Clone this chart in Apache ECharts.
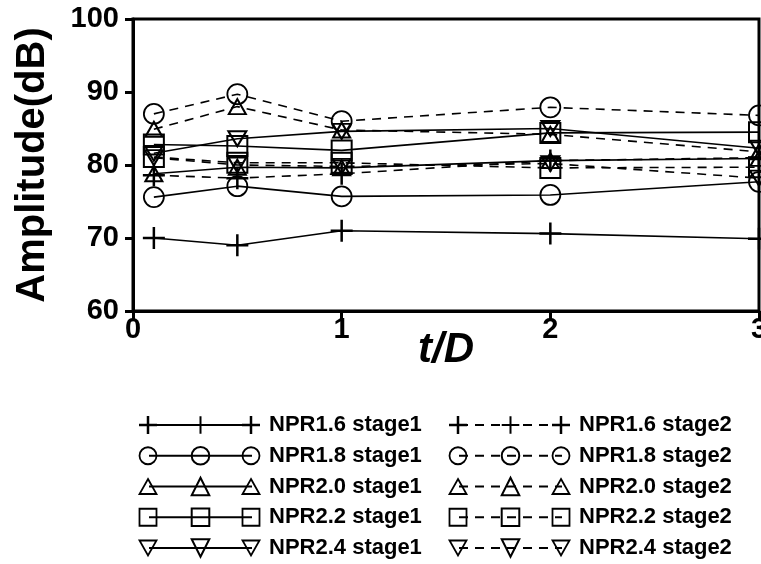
<!DOCTYPE html>
<html>
<head>
<meta charset="utf-8">
<script src="https://cdn.jsdelivr.net/npm/echarts@6/dist/echarts.min.js"></script>
<style>
  html, body { margin: 0; padding: 0; background: #fff; }
  #chart { width: 761px; height: 564px; }
</style>
</head>
<body>
<div id="chart"></div>
<script>
// ---- data ----
const xValues = [0.1, 0.5, 1, 2, 3];
const xTicks = [0, 1, 2, 3];
const yTicks = [60, 70, 80, 90, 100];

const npr16Stage1 = [70.0, 69.0, 71.0, 70.6, 69.9];
const npr16Stage2 = [78.6, 78.2, 78.8, 80.6, 81.0];
const npr18Stage1 = [75.6, 77.1, 75.7, 75.9, 77.7];
const npr18Stage2 = [87.0, 89.7, 86.0, 87.9, 86.8];
const npr20Stage1 = [78.8, 79.7, 79.6, 80.6, 80.9];
const npr20Stage2 = [84.9, 88.0, 84.8, 84.2, 81.8];
const npr22Stage1 = [82.8, 82.6, 82.0, 84.4, 84.5];
const npr22Stage2 = [81.1, 80.3, 80.3, 79.6, 79.7];
const npr24Stage1 = [81.6, 83.6, 84.6, 85.0, 82.3];
const npr24Stage2 = [81.0, 80.0, 79.8, 80.2, 78.2];

const seriesNames = [
  'NPR1.6 stage1', 'NPR1.6 stage2',
  'NPR1.8 stage1', 'NPR1.8 stage2',
  'NPR2.0 stage1', 'NPR2.0 stage2',
  'NPR2.2 stage1', 'NPR2.2 stage2',
  'NPR2.4 stage1', 'NPR2.4 stage2'
];
const seriesValues = [
  npr16Stage1, npr16Stage2,
  npr18Stage1, npr18Stage2,
  npr20Stage1, npr20Stage2,
  npr22Stage1, npr22Stage2,
  npr24Stage1, npr24Stage2
];

// ---- styling ----
const FONT = 'Arial, "Liberation Sans", Helvetica, sans-serif';
const plusPath = 'path://M10,0L10,20M0,10L20,10';
const downTri = 'path://M0,0L20,0L10,17Z';
const markers = [
  { symbol: plusPath, size: 22, bw: 2.5, legendSize: [18, 18] },
  { symbol: 'circle', size: 20, bw: 1.8, legendSize: [17, 17] },
  { symbol: 'triangle', size: [17, 15], bw: 2, legendSize: [17, 15] },
  { symbol: 'rect', size: 20, bw: 2, legendSize: [17, 17] },
  { symbol: downTri, size: [18, 15], bw: 2, legendSize: [17, 15] }
];

const series = seriesNames.map((name, i) => {
  const m = markers[Math.floor(i / 2)];
  const dashed = i % 2 === 1;
  return {
    name: name,
    type: 'line',
    data: xValues.map((x, k) => [x, seriesValues[i][k]]),
    symbol: m.symbol,
    symbolSize: m.size,
    showSymbol: true,
    clip: false,
    lineStyle: { color: '#000', width: 1.6, type: dashed ? [9, 7] : 'solid' },
    itemStyle: { color: 'rgba(0,0,0,0)', borderColor: '#000', borderWidth: m.bw },
    emphasis: { disabled: true },
    z: 3
  };
});

// legend layout (decoration only)
const LEG_LEFT = [148, 458];
const LEG_TOP = 414;
const LEG_W = 103;
const LEG_H = 22;
const LEG_GAP = 8.75;

const legendText = { fontSize: 22, fontWeight: 'bold', color: '#000', fontFamily: FONT, padding: [0, 0, 0, 12] };

// end markers of the legend samples (reference shows three markers per sample)
const legendGraphics = [];
seriesNames.forEach((name, i) => {
  const col = i % 2;
  const row = Math.floor(i / 2);
  const m = markers[row];
  const cy = LEG_TOP + row * (LEG_H + LEG_GAP) + LEG_H / 2;
  const sz = m.legendSize;
  [LEG_LEFT[col], LEG_LEFT[col] + LEG_W].forEach(cx => {
    const style = { fill: 'rgba(0,0,0,0)', stroke: '#000', lineWidth: 1.8 };
    if (row === 0) {
      legendGraphics.push({ type: 'line', shape: { x1: cx, y1: cy - sz[1] / 2, x2: cx, y2: cy + sz[1] / 2 }, style: { stroke: '#000', lineWidth: 2.5 }, z: 10 });
      legendGraphics.push({ type: 'line', shape: { x1: cx - sz[0] / 2, y1: cy, x2: cx + sz[0] / 2, y2: cy }, style: { stroke: '#000', lineWidth: 2.5 }, z: 10 });
    } else if (row === 1) {
      legendGraphics.push({ type: 'circle', shape: { cx: cx, cy: cy, r: sz[0] / 2 }, style: style, z: 10 });
    } else if (row === 2) {
      legendGraphics.push({ type: 'polygon', shape: { points: [[cx, cy - sz[1] / 2], [cx + sz[0] / 2, cy + sz[1] / 2], [cx - sz[0] / 2, cy + sz[1] / 2]] }, style: style, z: 10 });
    } else if (row === 3) {
      legendGraphics.push({ type: 'rect', shape: { x: cx - sz[0] / 2, y: cy - sz[1] / 2, width: sz[0], height: sz[1] }, style: style, z: 10 });
    } else {
      legendGraphics.push({ type: 'polygon', shape: { points: [[cx - sz[0] / 2, cy - sz[1] / 2], [cx + sz[0] / 2, cy - sz[1] / 2], [cx, cy + sz[1] / 2]] }, style: style, z: 10 });
    }
  });
});

const option = {
  animation: false,
  backgroundColor: '#fff',
  grid: {
    left: 133, top: 19, right: 2, bottom: 253,
    containLabel: false,
    outerBoundsMode: 'none',
    show: true, borderColor: '#000', borderWidth: 3, backgroundColor: 'transparent'
  },
  xAxis: {
    type: 'value',
    min: xTicks[0], max: xTicks[xTicks.length - 1], interval: 1,
    name: 't/D',
    nameLocation: 'middle',
    nameGap: 18,
    nameMoveOverlap: false,
    nameTextStyle: { fontSize: 42, fontWeight: 'bold', fontStyle: 'italic', color: '#000', fontFamily: FONT },
    axisLine: { show: true, onZero: false, lineStyle: { color: '#000', width: 3 } },
    axisTick: { show: true, inside: false, length: 8, lineStyle: { color: '#000', width: 3 } },
    axisLabel: { fontSize: 29, fontWeight: 'bold', color: '#000', fontFamily: FONT, margin: 4,
      showMinLabel: true, showMaxLabel: true, hideOverlap: false },
    splitLine: { show: false }
  },
  yAxis: {
    type: 'value',
    min: yTicks[0], max: yTicks[yTicks.length - 1], interval: 10,
    name: 'Amplitude(dB)',
    nameLocation: 'middle',
    nameGap: 80,
    nameMoveOverlap: false,
    nameTextStyle: { fontSize: 40, fontWeight: 'bold', color: '#000', fontFamily: FONT },
    axisLine: { show: true, onZero: false, lineStyle: { color: '#000', width: 3 } },
    axisTick: { show: true, inside: false, length: 8, lineStyle: { color: '#000', width: 3 } },
    axisLabel: { fontSize: 29, fontWeight: 'bold', color: '#000', fontFamily: FONT, margin: 14 },
    splitLine: { show: false }
  },
  legend: [0, 1].map(col => ({
    type: 'plain',
    data: seriesNames.filter((n, i) => i % 2 === col),
    orient: 'vertical', left: LEG_LEFT[col], top: LEG_TOP, padding: 0,
    height: 160,
    itemWidth: LEG_W, itemHeight: LEG_H, itemGap: LEG_GAP,
    textStyle: legendText,
    selectedMode: false
  })),
  graphic: legendGraphics,
  series: series
};

const chart = echarts.init(document.getElementById('chart'), null, { renderer: 'canvas' });
chart.setOption(option);
</script>
</body>
</html>
